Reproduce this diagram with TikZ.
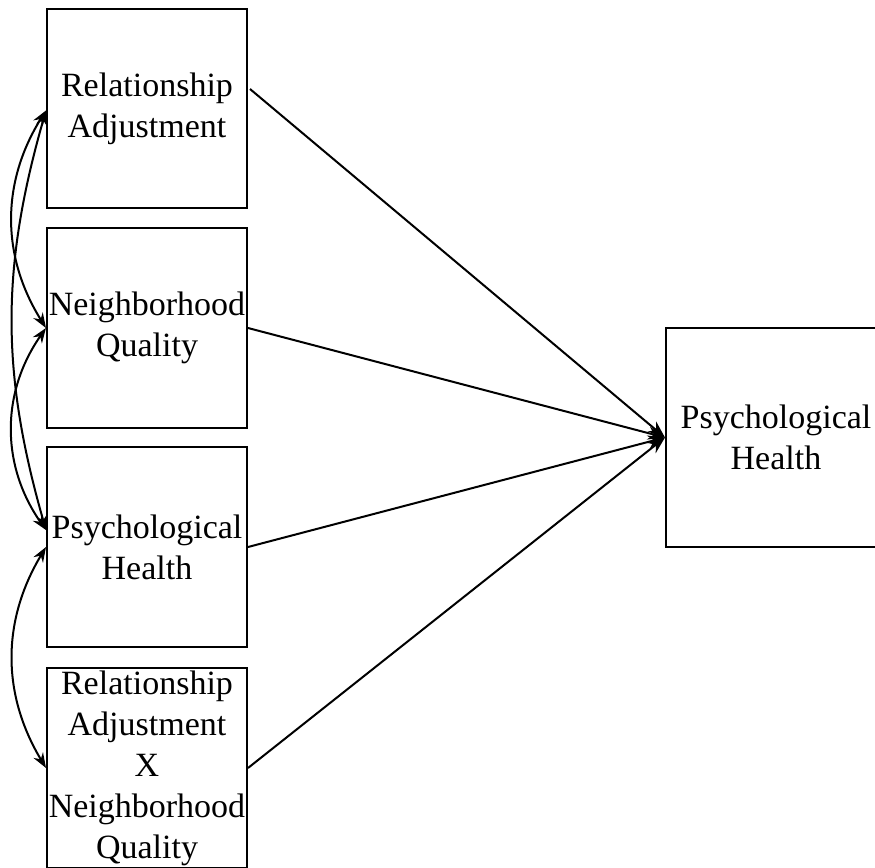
\documentclass[tikz,border=0pt]{standalone}
\usepackage{fontspec}
\setmainfont{Liberation Serif}
\usetikzlibrary{arrows.meta,calc}
\begin{document}
\begin{tikzpicture}[x=1pt,y=-1pt,
  box/.style={draw,line width=2pt,inner sep=0pt,minimum width=200pt,minimum height=200pt,align=center,
    font=\fontsize{34pt}{41pt}\selectfont},
  path/.style={line width=2pt,-{Stealth[length=17pt,width=13pt]}},
  cov/.style={line width=2pt,{Stealth[length=15pt,width=11pt]}-{Stealth[length=15pt,width=11pt]}}]
\useasboundingbox (0,0) rectangle (875,867);
\clip (0,0) rectangle (875,867);
\node[box,minimum height=199pt] (b1) at (147,108.5) {Relationship\\Adjustment};
\node[box] (b2) at (147,328) {Neighborhood\\Quality};
\node[box] (b3) at (147,547) {Psychological\\Health};
\node[box] (b4) at (147,768) {Relationship\\Adjustment\\X\\Neighborhood\\Quality};
\node[box,minimum width=220pt,minimum height=219pt] (r) at (776,437.5) {Psychological\\Health};
\coordinate (s1) at (250,89);
\coordinate (b3a) at ($(b3.west)+(0,-17)$);
\coordinate (b1a) at ($(b1.west)+(0,2)$);
\draw[path] (s1) -- (r.west);
\draw[path] (b2.east) -- (r.west);
\draw[path] (b3.east) -- (r.west);
\draw[path] (b4.east) -- (r.west);
\draw[cov] (b1a) to[bend right=32] (b2.west);
\draw[cov] (b1a) to[bend right=16] (b3a);
\draw[cov] (b2.west) to[bend right=35] (b3a);
\draw[cov] (b3.west) to[bend right=31] (b4.west);
\end{tikzpicture}
\end{document}
